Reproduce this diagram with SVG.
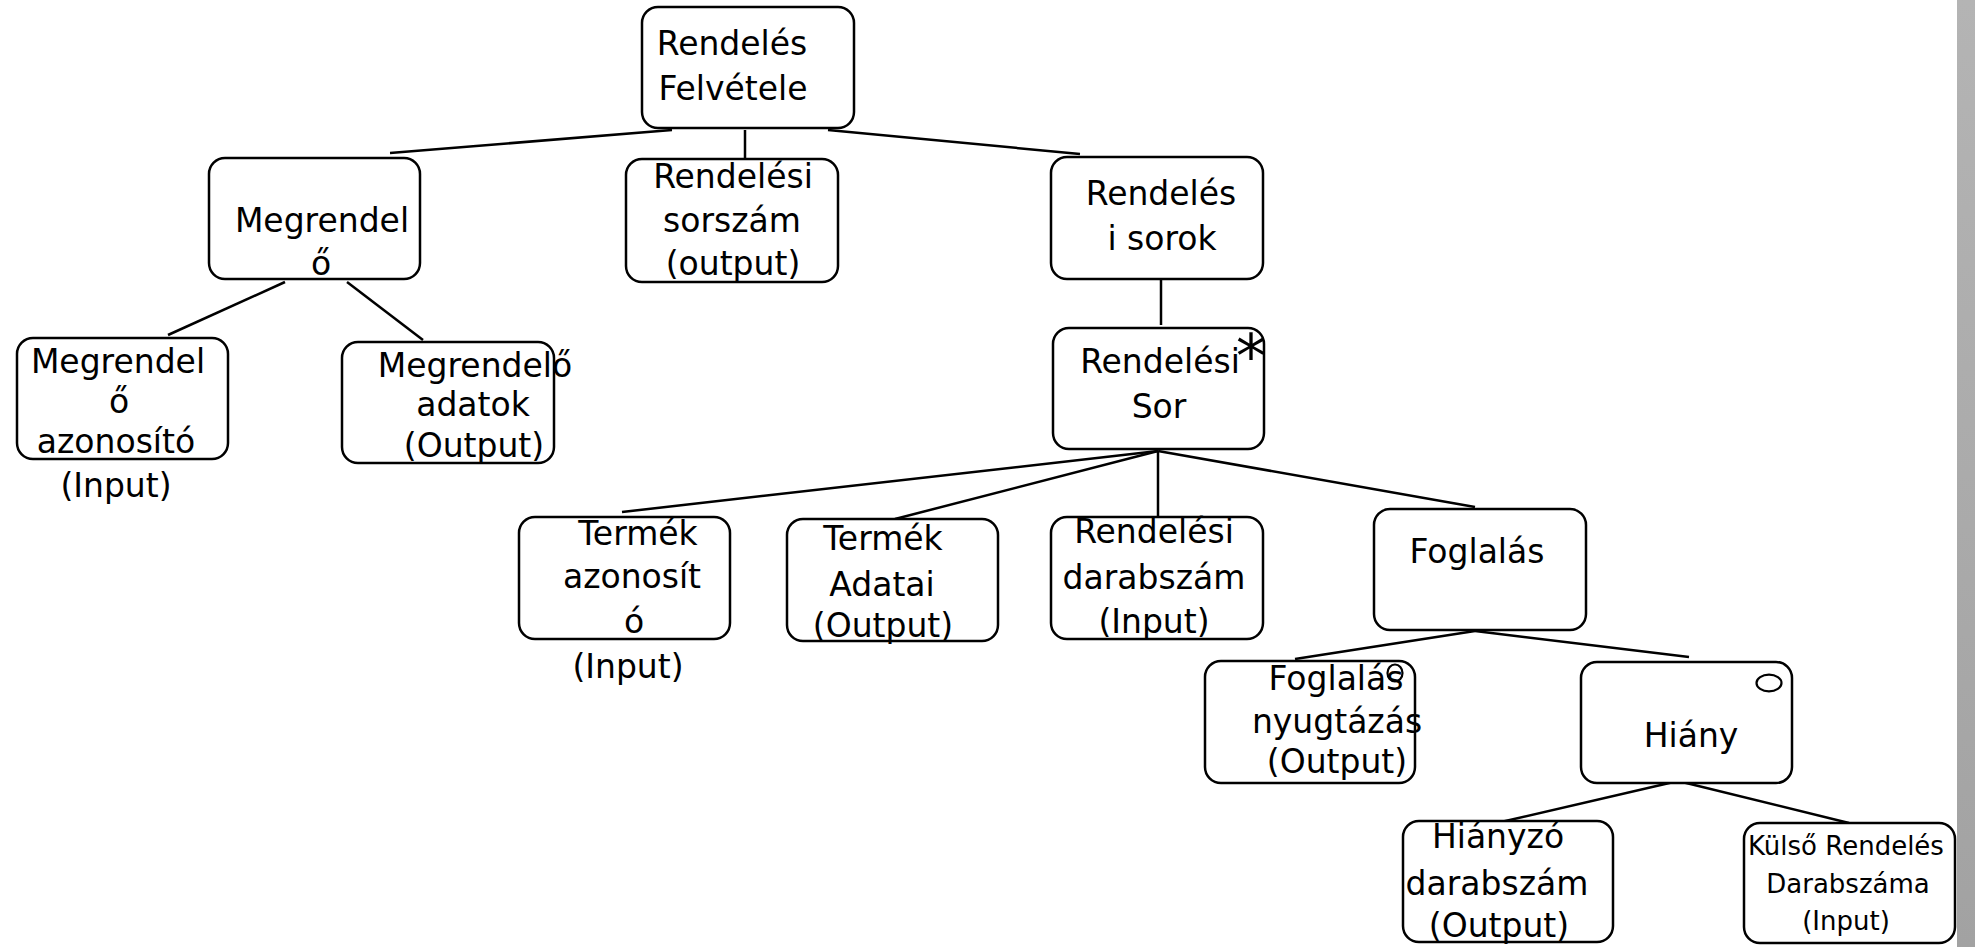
<svg xmlns="http://www.w3.org/2000/svg" width="1975" height="947" viewBox="0 0 1975 947">
<defs>
<linearGradient id="bar" x1="0" y1="0" x2="0" y2="1">
<stop offset="0" stop-color="#b4b4b4"/>
<stop offset="1" stop-color="#a2a2a2"/>
</linearGradient>
</defs>
<style>
.box{fill:#fff;stroke:#000;stroke-width:2.5}
.t{font-family:"DejaVu Sans","Liberation Sans",sans-serif;font-size:33px;fill:#000;text-anchor:middle}
.s{font-size:26px}
.c{stroke:#000;stroke-width:2.5;fill:none}
.m{fill:none;stroke:#000;stroke-width:2.2}
</style>
<rect x="0" y="0" width="1975" height="947" fill="#fff"/>
<rect x="1957" y="0" width="18" height="947" fill="url(#bar)"/>
<g id="connectors">
<line class="c" x1="390" y1="153" x2="672" y2="130"/>
<line class="c" x1="745" y1="130" x2="745" y2="158"/>
<line class="c" x1="828" y1="130" x2="1080" y2="154"/>
<line class="c" x1="285" y1="282" x2="168" y2="335"/>
<line class="c" x1="347" y1="282" x2="423" y2="340"/>
<line class="c" x1="1161" y1="279" x2="1161" y2="325"/>
<line class="c" x1="1158" y1="451" x2="622" y2="512"/>
<line class="c" x1="1158" y1="451" x2="895" y2="519"/>
<line class="c" x1="1158" y1="451" x2="1158" y2="516"/>
<line class="c" x1="1158" y1="451" x2="1475" y2="507"/>
<line class="c" x1="1475" y1="631" x2="1295" y2="659"/>
<line class="c" x1="1475" y1="631" x2="1689" y2="657"/>
<line class="c" x1="1678" y1="781" x2="1501" y2="822"/>
<line class="c" x1="1678" y1="781" x2="1849" y2="823"/>
</g>
<g id="rendeles-felvetele">
<rect class="box" x="642" y="7" width="212" height="121" rx="16"/>
<text class="t" x="732" y="55">Rendelés</text>
<text class="t" x="733" y="100">Felvétele</text>
</g>
<g id="megrendelo">
<rect class="box" x="209" y="158" width="211" height="121" rx="16"/>
<text class="t" x="322" y="232">Megrendel</text>
<text class="t" x="321" y="275">ő</text>
</g>
<g id="rendelesi-sorszam">
<rect class="box" x="626" y="159" width="212" height="123" rx="16"/>
<text class="t" x="733" y="188">Rendelési</text>
<text class="t" x="732" y="232">sorszám</text>
<text class="t" x="733" y="275">(output)</text>
</g>
<g id="rendelesi-sorok">
<rect class="box" x="1051" y="157" width="212" height="122" rx="16"/>
<text class="t" x="1161" y="205">Rendelés</text>
<text class="t" x="1162" y="250">i sorok</text>
</g>
<g id="megrendelo-azonosito">
<rect class="box" x="17" y="338" width="211" height="121" rx="16"/>
<text class="t" x="118" y="373">Megrendel</text>
<text class="t" x="119" y="413">ő</text>
<text class="t" x="116" y="453">azonosító</text>
<text class="t" x="116" y="497">(Input)</text>
</g>
<g id="megrendelo-adatok">
<rect class="box" x="342" y="342" width="212" height="121" rx="16"/>
<text class="t" x="475" y="377">Megrendelő</text>
<text class="t" x="473" y="416">adatok</text>
<text class="t" x="474" y="457">(Output)</text>
</g>
<g id="rendelesi-sor">
<rect class="box" x="1053" y="328" width="211" height="121" rx="16"/>
<text class="t" x="1160" y="373">Rendelési</text>
<text class="t" x="1159" y="418">Sor</text>
<text class="t" x="1251" y="377" style="font-size:60px">*</text>
</g>
<g id="termek-azonosito">
<rect class="box" x="519" y="517" width="211" height="122" rx="16"/>
<text class="t" x="638" y="545">Termék</text>
<text class="t" x="632" y="588">azonosít</text>
<text class="t" x="634" y="633">ó</text>
<text class="t" x="628" y="678">(Input)</text>
</g>
<g id="termek-adatai">
<rect class="box" x="787" y="519" width="211" height="122" rx="16"/>
<text class="t" x="883" y="550">Termék</text>
<text class="t" x="882" y="596">Adatai</text>
<text class="t" x="883" y="637">(Output)</text>
</g>
<g id="rendelesi-darabszam">
<rect class="box" x="1051" y="517" width="212" height="122" rx="16"/>
<text class="t" x="1154" y="543">Rendelési</text>
<text class="t" x="1154" y="589">darabszám</text>
<text class="t" x="1154" y="633">(Input)</text>
</g>
<g id="foglalas">
<rect class="box" x="1374" y="509" width="212" height="121" rx="16"/>
<text class="t" x="1477" y="563">Foglalás</text>
</g>
<g id="foglalas-nyugtazas">
<rect class="box" x="1205" y="661" width="210" height="122" rx="16"/>
<text class="t" x="1336" y="690">Foglalás</text>
<text class="t" x="1337" y="733">nyugtázás</text>
<text class="t" x="1337" y="773">(Output)</text>
<ellipse class="m" cx="1395" cy="673" rx="7.5" ry="8.5"/>
</g>
<g id="hiany">
<rect class="box" x="1581" y="662" width="211" height="121" rx="16"/>
<text class="t" x="1691" y="747">Hiány</text>
<ellipse class="m" cx="1769" cy="683" rx="12.5" ry="8.3"/>
</g>
<g id="hianyzo-darabszam">
<rect class="box" x="1403" y="821" width="210" height="121" rx="16"/>
<text class="t" x="1498" y="848">Hiányzó</text>
<text class="t" x="1497" y="895">darabszám</text>
<text class="t" x="1499" y="937">(Output)</text>
</g>
<g id="kulso-rendeles">
<rect class="box" x="1744" y="823" width="211" height="120" rx="16"/>
<text class="t s" x="1846" y="855">Külső Rendelés</text>
<text class="t s" x="1848" y="893">Darabszáma</text>
<text class="t s" x="1846" y="930">(Input)</text>
</g>
</svg>
